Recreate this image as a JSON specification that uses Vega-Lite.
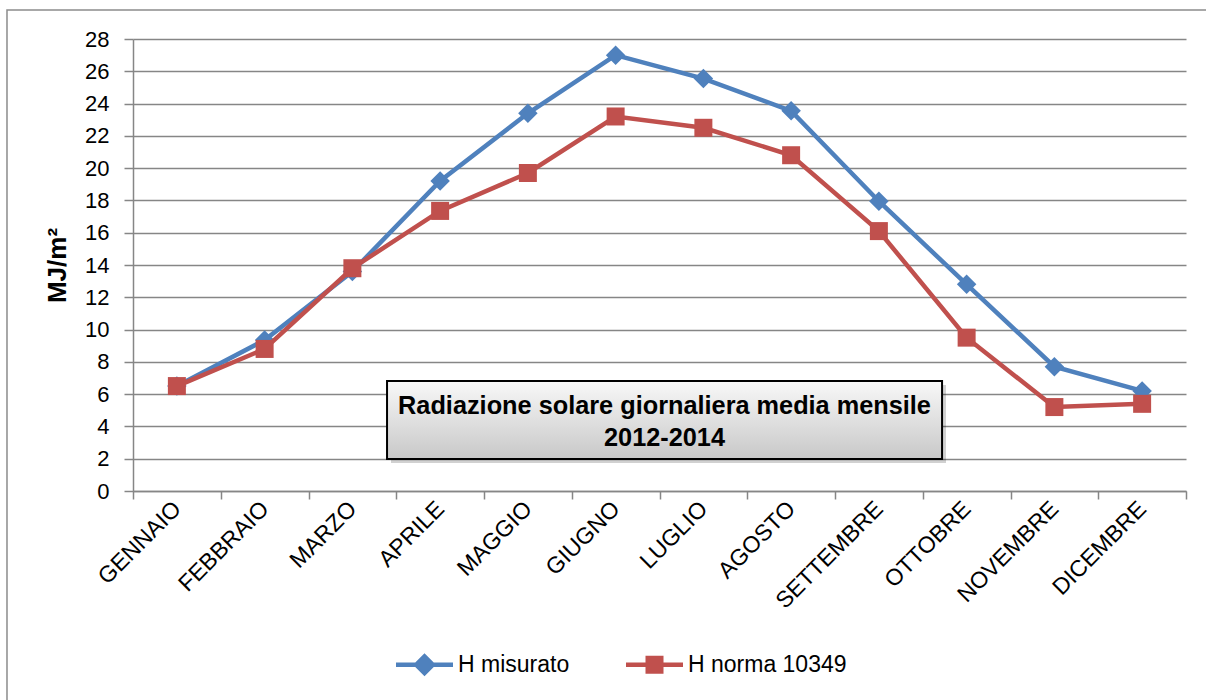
{
  "$schema": "https://vega.github.io/schema/vega-lite/v6.json",
  "width": 1053,
  "height": 452,
  "autosize": {"type": "none"},
  "padding": {"left": 133, "top": 39, "right": 20, "bottom": 209},
  "background": "white",
  "config": {"view": {"stroke": null}, "font": "Liberation Sans"},
  "datasets": {
    "serie": [
      {"mese": "GENNAIO", "serie": "H misurato", "valore": 6.5},
      {"mese": "FEBBRAIO", "serie": "H misurato", "valore": 9.35},
      {"mese": "MARZO", "serie": "H misurato", "valore": 13.6},
      {"mese": "APRILE", "serie": "H misurato", "valore": 19.2},
      {"mese": "MAGGIO", "serie": "H misurato", "valore": 23.4},
      {"mese": "GIUGNO", "serie": "H misurato", "valore": 27.0},
      {"mese": "LUGLIO", "serie": "H misurato", "valore": 25.55},
      {"mese": "AGOSTO", "serie": "H misurato", "valore": 23.55},
      {"mese": "SETTEMBRE", "serie": "H misurato", "valore": 17.95},
      {"mese": "OTTOBRE", "serie": "H misurato", "valore": 12.8},
      {"mese": "NOVEMBRE", "serie": "H misurato", "valore": 7.7},
      {"mese": "DICEMBRE", "serie": "H misurato", "valore": 6.2},
      {"mese": "GENNAIO", "serie": "H norma 10349", "valore": 6.5},
      {"mese": "FEBBRAIO", "serie": "H norma 10349", "valore": 8.8},
      {"mese": "MARZO", "serie": "H norma 10349", "valore": 13.8},
      {"mese": "APRILE", "serie": "H norma 10349", "valore": 17.35},
      {"mese": "MAGGIO", "serie": "H norma 10349", "valore": 19.7},
      {"mese": "GIUGNO", "serie": "H norma 10349", "valore": 23.2},
      {"mese": "LUGLIO", "serie": "H norma 10349", "valore": 22.5},
      {"mese": "AGOSTO", "serie": "H norma 10349", "valore": 20.8},
      {"mese": "SETTEMBRE", "serie": "H norma 10349", "valore": 16.1},
      {"mese": "OTTOBRE", "serie": "H norma 10349", "valore": 9.5},
      {"mese": "NOVEMBRE", "serie": "H norma 10349", "valore": 5.2},
      {"mese": "DICEMBRE", "serie": "H norma 10349", "valore": 5.4}
    ],
    "riquadro": [{"x1": 2.895, "x2": 9.22, "y1": 1.98, "y2": 6.81}],
    "ombra": [{"x1": 2.94, "x2": 9.265, "y1": 1.73, "y2": 6.56}],
    "cornice": [{"x1": -1.436, "x2": 14, "y1": -20, "y2": 29.8}],
    "testo": [
      {"x": 6.057, "y": 5.27, "t": "Radiazione solare giornaliera media mensile"},
      {"x": 6.057, "y": 3.28, "t": "2012-2014"}
    ]
  },
  "resolve": {"scale": {"x": "independent"}, "axis": {"x": "independent", "y": "independent"}},
  "layer": [
    {
      "data": {"name": "serie"},
      "encoding": {
        "x": {
          "field": "mese", "type": "nominal",
          "sort": ["GENNAIO","FEBBRAIO","MARZO","APRILE","MAGGIO","GIUGNO","LUGLIO","AGOSTO","SETTEMBRE","OTTOBRE","NOVEMBRE","DICEMBRE"],
          "scale": {"type": "band", "paddingInner": 0, "paddingOuter": 0},
          "axis": {
            "title": null, "tickBand": "extent", "labelAngle": -45, "labelAlign": "right", "labelBaseline": "middle",
            "labelFontSize": 23, "labelColor": "black", "labelPadding": 6, "tickSize": 8, "tickColor": "#868686",
            "domainColor": "#868686", "domainWidth": 1.5, "tickWidth": 1.5, "grid": false
          }
        },
        "y": {
          "field": "valore", "type": "quantitative",
          "scale": {"domain": [0, 28], "nice": false},
          "axis": {
            "title": "MJ/m²", "values": [0,2,4,6,8,10,12,14,16,18,20,22,24,26,28],
            "labelFontSize": 22, "labelColor": "black", "labelPadding": 15, "tickSize": 9, "tickColor": "#868686",
            "tickWidth": 1.5, "domainColor": "#868686", "domainWidth": 1.5, "gridColor": "#868686", "gridWidth": 1.5,
            "grid": true, "titleFontSize": 26, "titleFontWeight": "bold", "titleColor": "black", "titlePadding": 14
          }
        }
      },
      "layer": [
        {"transform": [{"filter": "datum.serie === 'H misurato'"}], "mark": {"type": "line", "color": "#4F81BD", "strokeWidth": 4.5}},
        {"transform": [{"filter": "datum.serie === 'H misurato'"}], "mark": {"type": "point", "shape": "diamond", "filled": true, "color": "#4F81BD", "size": 380, "opacity": 1}},
        {"transform": [{"filter": "datum.serie === 'H norma 10349'"}], "mark": {"type": "line", "color": "#C0504D", "strokeWidth": 4.5}},
        {"transform": [{"filter": "datum.serie === 'H norma 10349'"}], "mark": {"type": "point", "shape": "square", "filled": true, "color": "#C0504D", "size": 324, "opacity": 1}},
        {
          "mark": {"type": "point", "filled": true, "opacity": 0},
          "encoding": {
            "color": {
              "field": "serie", "type": "nominal",
              "scale": {"domain": ["H misurato", "H norma 10349"], "range": ["#4F81BD", "#C0504D"]},
              "legend": {"orient": "none", "legendX": 280, "legendY": 614, "direction": "horizontal", "title": null,
                "symbolSize": 400, "symbolOpacity": 1, "symbolStrokeWidth": 0, "labelFontSize": 23, "labelFont": "Liberation Sans",
                "labelColor": "black", "labelOffset": 22, "columnPadding": 56, "padding": 0}
            },
            "shape": {
              "field": "serie", "type": "nominal",
              "scale": {"domain": ["H misurato", "H norma 10349"], "range": [
                "M-2.85,-0.22H2.85V0.22H-2.85Z M0,-1.15L1.15,0L0,1.15L-1.15,0Z",
                "M-2.85,-0.22H2.85V0.22H-2.85Z M-0.9,-0.9H0.9V0.9H-0.9Z"
              ]},
              "legend": {"orient": "none", "legendX": 280, "legendY": 614, "direction": "horizontal", "title": null,
                "symbolSize": 400, "symbolOpacity": 1, "symbolStrokeWidth": 0, "labelFontSize": 23, "labelFont": "Liberation Sans",
                "labelColor": "black", "labelOffset": 22, "columnPadding": 56, "padding": 0}
            }
          }
        }
      ]
    },
    {
      "layer": [
        {
          "data": {"name": "cornice"},
          "mark": {"type": "rect", "fill": "white", "fillOpacity": 0, "stroke": "#8c8c8c", "strokeWidth": 1.5},
          "encoding": {
            "x": {"field": "x1", "type": "quantitative", "scale": {"domain": [0, 12], "nice": false, "zero": false}, "axis": null},
            "x2": {"field": "x2"},
            "y": {"field": "y1", "type": "quantitative", "scale": {"domain": [0, 28], "nice": false}, "axis": null},
            "y2": {"field": "y2"}
          }
        },
        {
          "data": {"name": "ombra"},
          "mark": {"type": "rect", "fill": "#000000", "opacity": 0.18},
          "encoding": {
            "x": {"field": "x1", "type": "quantitative", "scale": {"domain": [0, 12], "nice": false, "zero": false}, "axis": null},
            "x2": {"field": "x2"},
            "y": {"field": "y1", "type": "quantitative", "scale": {"domain": [0, 28], "nice": false}, "axis": null},
            "y2": {"field": "y2"}
          }
        },
        {
          "data": {"name": "riquadro"},
          "mark": {"type": "rect", "stroke": "#000000", "strokeWidth": 2,
            "fill": {"gradient": "linear", "x1": 0, "y1": 0, "x2": 0, "y2": 1,
              "stops": [{"offset": 0, "color": "#f8f8f8"}, {"offset": 1, "color": "#c8c8c8"}]}},
          "encoding": {
            "x": {"field": "x1", "type": "quantitative", "scale": {"domain": [0, 12], "nice": false, "zero": false}, "axis": null},
            "x2": {"field": "x2"},
            "y": {"field": "y1", "type": "quantitative", "scale": {"domain": [0, 28], "nice": false}, "axis": null},
            "y2": {"field": "y2"}
          }
        },
        {
          "data": {"name": "testo"},
          "mark": {"type": "text", "align": "center", "baseline": "middle", "fontWeight": "bold", "fontSize": 25.3, "font": "Liberation Sans", "color": "black"},
          "encoding": {
            "x": {"field": "x", "type": "quantitative", "scale": {"domain": [0, 12], "nice": false, "zero": false}, "axis": null},
            "y": {"field": "y", "type": "quantitative", "scale": {"domain": [0, 28], "nice": false}, "axis": null},
            "text": {"field": "t"}
          }
        }
      ]
    }
  ]
}
